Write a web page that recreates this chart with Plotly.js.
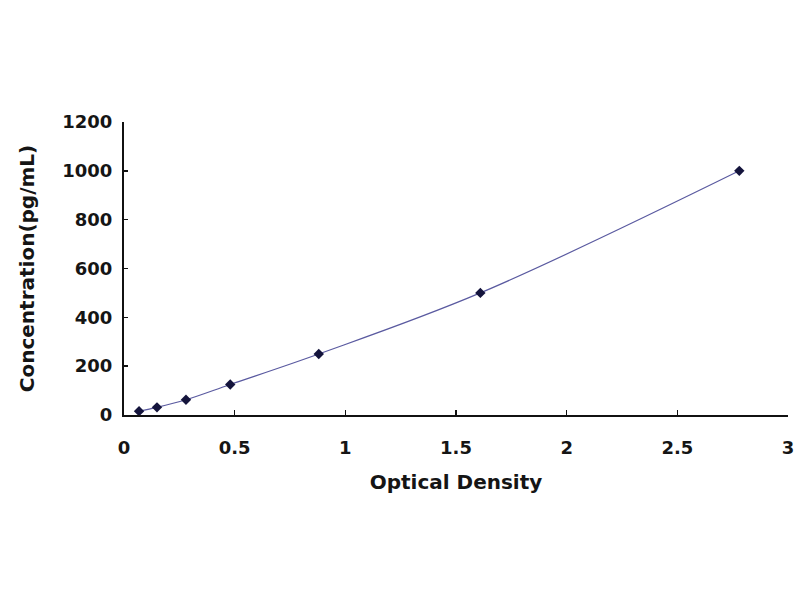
<!DOCTYPE html>
<html><head><meta charset="utf-8">
<script src="https://cdn.plot.ly/plotly-3.0.1.min.js"></script>
<style>html,body{margin:0;padding:0;background:#fff;}#chart{width:800px;height:600px;}</style>
</head><body><div id="chart"></div>
<script>
const opticalDensity = [0.068, 0.149, 0.28, 0.48, 0.88, 1.61, 2.78];
const concentration = [15.6, 31.25, 62.5, 125, 250, 500, 1000];
const xTicks = [0, 0.5, 1, 1.5, 2, 2.5, 3];
const xTickLabels = ['0', '0.5', '1', '1.5', '2', '2.5', '3'];
const yTicks = [0, 200, 400, 600, 800, 1000, 1200];

const fam = 'DejaVu Sans, Liberation Sans, Arial, sans-serif';
const tickFont = {family: fam, size: 18, color: '#151515', weight: 'bold'};
const titleFont = {family: fam, size: 20, color: '#151515', weight: 'bold'};

Plotly.newPlot('chart', [{
  x: opticalDensity, y: concentration,
  type: 'scatter', mode: 'lines+markers',
  line: {shape: 'spline', color: '#5a5aa0', width: 1.2},
  marker: {symbol: 'diamond', size: 8, color: '#14143c'}
}], {
  width: 800, height: 600,
  margin: {l: 124, r: 12, t: 122, b: 185},
  paper_bgcolor: '#fff', plot_bgcolor: '#fff',
  showlegend: false,
  font: {family: fam, color: '#151515'},
  xaxis: {
    range: [0, 3], tickvals: xTicks, ticktext: xTickLabels,
    showgrid: false, zeroline: false, showline: true, linecolor: '#111', linewidth: 2,
    ticks: 'inside', ticklen: 5, tickwidth: 1.5, tickcolor: '#111',
    ticklabelstandoff: 15,
    tickfont: tickFont, automargin: false,
    title: {text: 'Optical Density', font: titleFont, standoff: 18}
  },
  yaxis: {
    range: [0, 1200], tickvals: yTicks,
    showgrid: false, zeroline: false, showline: true, linecolor: '#111', linewidth: 2,
    ticks: 'inside', ticklen: 4, tickwidth: 1.5, tickcolor: '#111',
    ticklabelstandoff: 6,
    tickfont: tickFont, automargin: false,
    title: {text: 'Concentration(pg/mL)', font: titleFont, standoff: 22}
  }
}, {displayModeBar: false, staticPlot: true});
</script>
</body></html>
